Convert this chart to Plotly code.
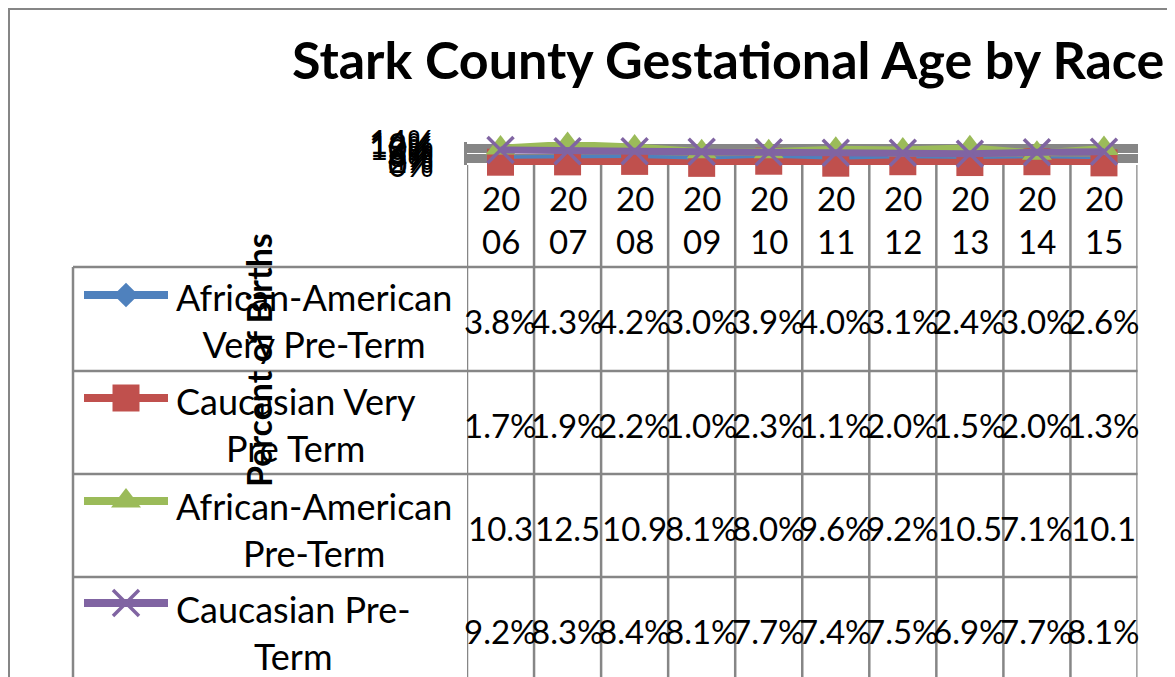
import plotly.graph_objects as go

# ---------------- data ----------------
years = ["2006", "2007", "2008", "2009", "2010", "2011", "2012", "2013", "2014", "2015"]
series_names = [
    "African-American Very Pre-Term",
    "Caucasian Very Pre Term",
    "African-American Pre-Term",
    "Caucasian Pre-Term",
]
legend_labels = [
    "African-American<br>Very Pre-Term",
    "Caucasian Very<br>Pre Term",
    "African-American<br>Pre-Term",
    "Caucasian Pre-<br>Term",
]
aa_very_pre = [0.038, 0.043, 0.042, 0.030, 0.039, 0.040, 0.031, 0.024, 0.030, 0.026]
cau_very_pre = [0.017, 0.019, 0.022, 0.010, 0.023, 0.011, 0.020, 0.015, 0.020, 0.013]
aa_pre = [0.103, 0.125, 0.109, 0.081, 0.080, 0.096, 0.092, 0.105, 0.071, 0.101]
cau_pre = [0.092, 0.083, 0.084, 0.081, 0.077, 0.074, 0.075, 0.069, 0.077, 0.081]
y_ticks = [0.0, 0.02, 0.04, 0.06, 0.08, 0.10, 0.12, 0.14]

series_values = [aa_very_pre, cau_very_pre, aa_pre, cau_pre]
colors = ["#4F81BD", "#C0504D", "#9BBB59", "#8064A2"]
symbols = ["diamond", "square", "triangle-up", "x-thin"]
marker_sizes = [19, 27, 26, 26]

W, H = 1175, 677
OFF = 8  # page body margin
FONT = "Lato"
GRID = "#868686"


def px(x):
    return (x - OFF) / W


def py(y):
    return 1 - (y - OFF) / H


# plot area (screen pixels)
X0, X1 = 467, 1137.5
Y0, Y1 = 142, 165
# table rows (screen pixels)
row_lines = [267, 371, 474, 577]
row_centers = [321, 425, 528, 631]
key_y = [295, 398, 501, 603]
label_y = [320, 424, 529, 632]

fig = go.Figure()
xs = list(range(len(years)))

for name, vals, col, sym, ms in zip(series_names, series_values, colors, symbols, marker_sizes):
    if sym == "x-thin":
        marker = dict(symbol=sym, size=ms, opacity=1, line=dict(width=3.5, color=col))
    else:
        marker = dict(symbol=sym, size=ms, opacity=1, color=col, line=dict(width=0))
    fig.add_trace(go.Scatter(
        x=xs, y=vals, name=name, mode="lines+markers",
        line=dict(color=col, width=7), marker=marker,
        cliponaxis=False, showlegend=False,
    ))

# legend keys inside the data table (overlay pixel axes)
for i, (col, sym, ms) in enumerate(zip(colors, symbols, marker_sizes)):
    if sym == "x-thin":
        marker = dict(symbol=sym, size=[0, ms, 0], opacity=1, line=dict(width=3.5, color=col))
    else:
        marker = dict(symbol=sym, size=[0, ms, 0], opacity=1, color=col, line=dict(width=0))
    fig.add_trace(go.Scatter(
        x=[84, 126, 168], y=[key_y[i]] * 3, mode="lines+markers",
        line=dict(color=col, width=8), marker=marker,
        xaxis="x2", yaxis="y2", showlegend=False, hoverinfo="skip",
    ))

shapes = []
line_style = dict(color=GRID, width=2.5)
# outer chart border
shapes.append(dict(type="rect", xref="paper", yref="paper",
                   x0=px(9), x1=px(1200), y0=py(9), y1=py(720), line=dict(color=GRID, width=2)))
# table horizontal lines
for y in row_lines:
    shapes.append(dict(type="line", xref="paper", yref="paper",
                       x0=px(73), x1=px(X1), y0=py(y), y1=py(y), line=line_style))
# table left border
shapes.append(dict(type="line", xref="paper", yref="paper",
                   x0=px(73), x1=px(73), y0=py(row_lines[0]), y1=py(720), line=line_style))
# column separators aligned with category axis
for k in range(len(years) + 1):
    shapes.append(dict(type="line", xref="x", yref="paper",
                       x0=k - 0.5, x1=k - 0.5, y0=py(Y1), y1=py(720), line=line_style))

annotations = []
# title
annotations.append(dict(text="Stark County Gestational Age by Race", xref="paper", yref="paper",
                        x=px(728), y=py(59), xanchor="center", yanchor="middle", showarrow=False,
                        font=dict(family=FONT, size=52, color="black", weight="bold")))
# y axis title
annotations.append(dict(text="Percent of Births", xref="paper", yref="paper",
                        x=px(259), y=py(360), xanchor="center", yanchor="middle", showarrow=False,
                        textangle=-90,
                        font=dict(family=FONT, size=34, color="black", weight="bold")))
# header years
for i, yr in enumerate(years):
    annotations.append(dict(text=yr[:2] + "<br>" + yr[2:], xref="x", yref="paper",
                            x=i, y=py(219), xanchor="center", yanchor="middle", showarrow=False,
                            font=dict(family=FONT, size=33, color="black")))
# legend labels and values
for r, (lab, vals) in enumerate(zip(legend_labels, series_values)):
    annotations.append(dict(text=lab, xref="paper", yref="paper", x=px(174), y=py(label_y[r]),
                            xanchor="left", yanchor="middle", align="center", showarrow=False,
                            font=dict(family=FONT, size=36, color="black")))
    for i, v in enumerate(vals):
        pct = v * 100
        txt = f"{pct:.1f}%" if pct < 10 else f"{pct:.1f}"
        annotations.append(dict(text=txt, xref="x", yref="paper", x=i, y=py(row_centers[r]),
                                xanchor="center", yanchor="middle", showarrow=False,
                                font=dict(family=FONT, size=33, color="black")))

fig.update_layout(
    width=W, height=H, autosize=False,
    margin=dict(l=0, r=0, t=0, b=0, pad=0),
    paper_bgcolor="white", plot_bgcolor="rgba(0,0,0,0)",
    showlegend=False,
    xaxis=dict(domain=[px(X0), px(X1)], range=[-0.5, len(years) - 0.5], automargin=False,
               showgrid=False, zeroline=False, showline=False, showticklabels=False,
               ticks="", fixedrange=True),
    yaxis=dict(domain=[py(Y1), py(Y0)], range=[0, 0.14], tickvals=y_ticks, tickformat=".0%",
               automargin=False,
               showgrid=True, gridcolor=GRID, gridwidth=3, zeroline=False,
               showline=True, linecolor=GRID, linewidth=2.5, ticks="",
               ticklabelstandoff=24,
               tickfont=dict(family=FONT, size=33, color="black"), fixedrange=True),
    xaxis2=dict(domain=[0, 1], range=[OFF, W + OFF], visible=False, anchor="y2",
                automargin=False, fixedrange=True),
    yaxis2=dict(domain=[0, 1], range=[H + OFF, OFF], visible=False, anchor="x2",
                automargin=False, fixedrange=True),
    shapes=shapes, annotations=annotations,
)

fig.write_html("out.html")
